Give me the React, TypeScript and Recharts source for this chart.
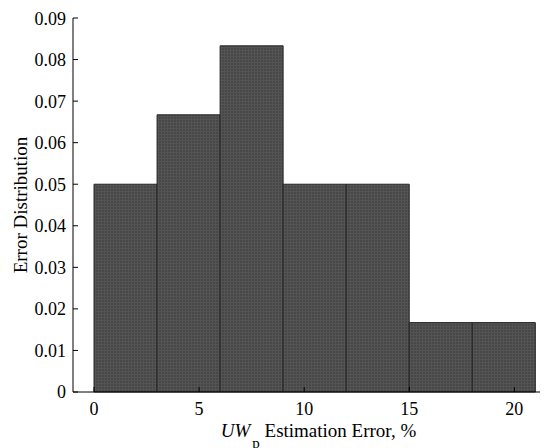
import { BarChart, Bar, XAxis, YAxis } from 'recharts'

// histogram bins: lower/upper edge of each error bin (%) and its density
const binLow = [0, 3, 6, 9, 12, 15, 18]
const binHigh = [3, 6, 9, 12, 15, 18, 21]
const density = [0.05, 0.0667, 0.0833, 0.05, 0.05, 0.0167, 0.0167]

const xTicks = [0, 5, 10, 15, 20]
const yTicks = [0, 0.01, 0.02, 0.03, 0.04, 0.05, 0.06, 0.07, 0.08, 0.09]
const yMinorTicks = Array.from({ length: 46 }, (_, i) => +(i * 0.002).toFixed(3))

const font = "'Liberation Serif', 'DejaVu Serif', serif"

const data = binLow.map((lo, i) => ({
  mid: (lo + binHigh[i]) / 2,
  density: density[i],
}))

const tickStyle = { fontSize: 18, fill: '#000', fontFamily: font, style: { fontFamily: font } }

function XLabel({ viewBox }: any) {
  const cx = viewBox.x + viewBox.width / 2 + 8
  return (
    <text x={cx} y={429} textAnchor="middle" style={{ fontFamily: font }} fontSize={19} fill="#000">
      <tspan fontStyle="italic">UW</tspan>
      <tspan fontSize={15} dx={2} dy={11}>p</tspan>
      <tspan dy={-11}> Estimation Error, %</tspan>
    </text>
  )
}

function YLabel({ viewBox }: any) {
  const cy = viewBox.y + viewBox.height / 2
  return (
    <text
      x={18.5}
      y={cy}
      transform={`rotate(-90, 18.5, ${cy})`}
      textAnchor="middle"
      style={{ fontFamily: font }}
      fontSize={19}
      fill="#000"
    >
      Error Distribution
    </text>
  )
}

export default function App() {
  return (
    <div style={{ width: 540, height: 440, fontFamily: font }}>
      <BarChart
        width={540}
        height={440}
        data={data}
        barCategoryGap={0}
        barGap={0}
        margin={{ top: 10, right: 0, left: 0, bottom: 0 }}
        style={{ fontFamily: font }}
      >
        <defs>
          <pattern id="binFill" width="3" height="3" patternUnits="userSpaceOnUse">
            <rect width="3" height="3" fill="#474747" />
            <path d="M0 0.5H3M0.5 0V3" stroke="#545454" strokeWidth="1" />
          </pattern>
        </defs>
        <XAxis
          xAxisId="bins"
          type="number"
          dataKey="mid"
          domain={[-1, 21.6]}
          ticks={xTicks}
          allowDataOverflow
          height={56}
          tickSize={-5}
          tickMargin={15}
          tick={tickStyle}
          stroke="#000"
          tickLine={{ stroke: '#000' }}
          label={<XLabel />}
        />
        <XAxis
          xAxisId="top"
          orientation="top"
          type="number"
          domain={[-1, 21.6]}
          ticks={xTicks}
          allowDataOverflow
          height={0}
          tickSize={-4}
          tick={false}
          stroke="#000"
        />
        <YAxis
          yAxisId="minor"
          domain={[0, 0.09]}
          ticks={yMinorTicks}
          width={0}
          tickSize={-3}
          tick={false}
          axisLine={false}
          stroke="#000"
        />
        <YAxis
          yAxisId="main"
          domain={[0, 0.09]}
          ticks={yTicks}
          width={65}
          tickSize={-5}
          tickMargin={12}
          tick={tickStyle}
          tickFormatter={(v: number) => (v === 0 ? '0' : v.toFixed(2))}
          stroke="#000"
          label={<YLabel />}
        />
        <Bar
          xAxisId="bins"
          yAxisId="main"
          dataKey="density"
          fill="url(#binFill)"
          stroke="#262626"
          strokeWidth={1}
          isAnimationActive={false}
        />
      </BarChart>
    </div>
  )
}
